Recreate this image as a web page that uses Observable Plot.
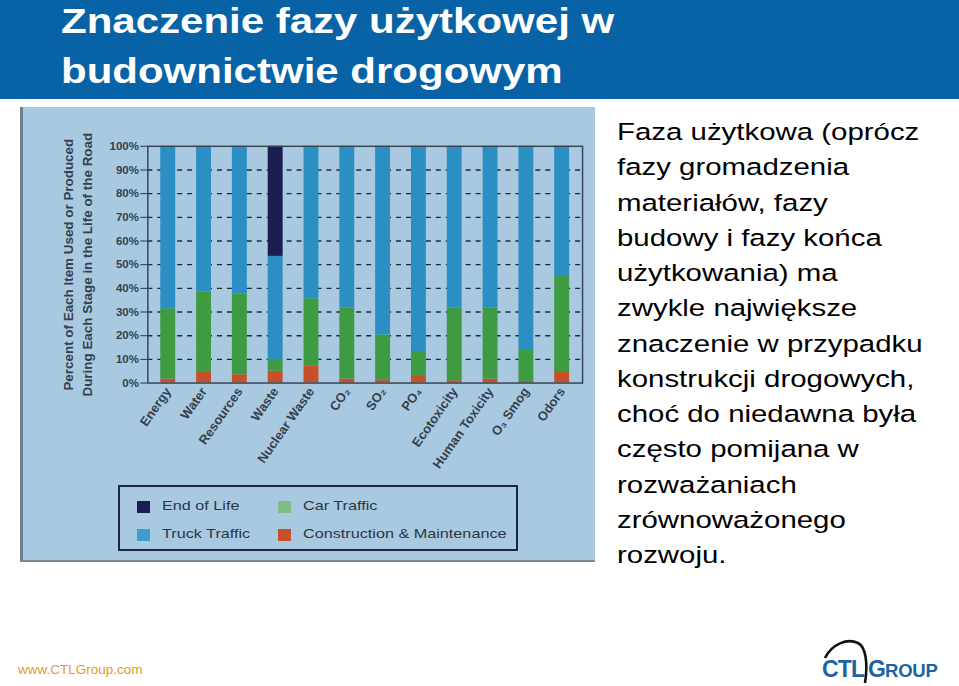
<!DOCTYPE html>
<html>
<head>
<meta charset="utf-8">
<script src="https://cdn.jsdelivr.net/npm/d3@7"></script>
<script src="https://cdn.jsdelivr.net/npm/@observablehq/plot@0.6"></script>
<style>
  html, body { margin: 0; padding: 0; }
  body { width: 959px; height: 686px; position: relative; overflow: hidden; background: #fff; font-family: "Liberation Sans", Arial, sans-serif; }
  #header { position: absolute; left: 0; top: 0; width: 959px; height: 99px; background: #0763a5; }
  .tline { position: absolute; left: 61px; color: #fff; font-weight: bold; font-size: 35px; white-space: nowrap; transform-origin: 0 0; transform: scale(1.2, 1); line-height: 40px; }
  #panel { position: absolute; left: 20px; top: 107px; width: 575px; height: 455px; background: #a9c9e1; border-left: 3px solid #6f7f8c; border-bottom: 2px solid #7d8b96; box-sizing: border-box; }
  #chart { position: absolute; left: -3px; top: 0; }
  #legend { position: absolute; left: 95px; top: 378px; width: 400px; height: 66px; border: 2px solid #1f2a36; box-sizing: border-box; font-size: 13.5px; color: #2c3640; }
  .li { position: absolute; white-space: nowrap; transform-origin: 0 50%; transform: scale(1.2, 1); }
  .sw { position: absolute; width: 13px; height: 12px; }
  #text { position: absolute; left: 617px; top: 114px; font-size: 24.5px; line-height: 35.25px; color: #000; white-space: nowrap; transform-origin: 0 0; transform: scale(1.2, 1); }
  #url { position: absolute; left: 18px; top: 662px; font-size: 13.5px; color: #e39a2e; }
  #logo { position: absolute; left: 818px; top: 636px; }
</style>
</head>
<body>
<div id="header">
  <div class="tline" style="top:1px">Znaczenie fazy użytkowej w</div>
  <div class="tline" style="top:51px">budownictwie drogowym</div>
</div>
<div id="panel">
  <div id="chart"></div>
  <div id="legend"></div>
</div>
<div id="text"></div>
<div id="url">www.CTLGroup.com</div>
<svg id="logo" width="140" height="50" viewBox="0 0 140 50">
  <path d="M7,22 C14,8 29,2 40,7 C48,11 50,28 47,47" fill="none" stroke="#111" stroke-width="2.6"/>
  <text x="4" y="41" font-family="Liberation Sans, Arial" font-weight="bold" font-size="23" fill="#1c63a3" letter-spacing="-0.8">CTL</text>
  <text x="50" y="41" font-family="Liberation Sans, Arial" font-weight="bold" font-size="23" fill="#1c63a3">G</text>
  <text x="67" y="41" font-family="Liberation Sans, Arial" font-weight="bold" font-size="18.5" fill="#1c63a3" letter-spacing="-0.2">ROUP</text>
</svg>
<script>
// ---- data ----
const categories = ["Energy", "Water", "Resources", "Waste", "Nuclear Waste", "CO₂", "SO₂", "PO₄", "Ecotoxicity", "Human Toxicity", "O₃ Smog", "Odors"];
const stages = ["Construction & Maintenance", "Car Traffic", "Truck Traffic", "End of Life"];
const construction = [1.7, 4.5, 3.5, 5.0, 7.3, 1.7, 1.4, 2.8, 1.0, 1.7, 0.7, 4.9];
const carTraffic   = [29.7, 33.9, 34.2, 4.5, 28.3, 30.1, 18.9, 10.5, 30.8, 30.1, 13.5, 40.1];
const endOfLife    = [0, 0, 0, 46.5, 0, 0, 0, 0, 0, 0, 0, 0];
const truckTraffic = categories.map((c, i) => 100 - construction[i] - carTraffic[i] - endOfLife[i]);
const stageColors = ["#c65128", "#3e9b41", "#2b8fc3", "#1b1c52"];
const yTicks = [0, 10, 20, 30, 40, 50, 60, 70, 80, 90, 100];
const gridValues = [10, 20, 30, 40, 50, 60, 70, 80, 90];
const yTitle = "Percent of Each Item Used or Produced\nDuring Each Stage in the Life of the Road";
const legendOrder = ["End of Life", "Truck Traffic", "Car Traffic", "Construction & Maintenance"];
const legendColors = ["#1b1c52", "#3a9ec6", "#7dbe86", "#c65128"];
const bodyLines = [
  "Faza użytkowa (oprócz",
  "fazy gromadzenia",
  "materiałów, fazy",
  "budowy i fazy końca",
  "użytkowania) ma",
  "zwykle największe",
  "znaczenie w przypadku",
  "konstrukcji drogowych,",
  "choć do niedawna była",
  "często pomijana w",
  "rozważaniach",
  "zrównoważonego",
  "rozwoju."
];

// ---- table ----
const seriesByStage = {
  "Construction & Maintenance": construction,
  "Car Traffic": carTraffic,
  "Truck Traffic": truckTraffic,
  "End of Life": endOfLife
};
const rows = [];
for (const s of stages) categories.forEach((c, i) => rows.push({cat: c, stage: s, value: seriesByStage[s][i]}));

const chart = Plot.plot({
  width: 578,
  height: 372,
  marginLeft: 128,
  marginRight: 13,
  marginTop: 39,
  marginBottom: 95,
  style: {background: "transparent", fontFamily: "Liberation Sans, Arial, sans-serif", color: "#2c3640", overflow: "visible"},
  x: {domain: categories, paddingInner: 0.59, paddingOuter: 0.25, label: null, tickRotate: -55, tickSize: 0, tickPadding: 6},
  y: {domain: [0, 100], ticks: yTicks, tickFormat: d => d + "%", label: null, tickSize: 7, tickPadding: 2},
  color: {domain: stages, range: stageColors},
  marks: [
    Plot.ruleY(gridValues, {stroke: "#1e2833", strokeWidth: 1.4, strokeDasharray: "5,5"}),
    Plot.barY(rows, {x: "cat", y: "value", fill: "stage", order: stages}),
    Plot.frame({stroke: "#3a4652", strokeWidth: 1.5}),
    Plot.text([yTitle], {frameAnchor: "left", textAnchor: "middle", dx: -72, rotate: -90, fontSize: 13.5, fontWeight: "bold", lineHeight: 1.4, fill: "#34404c"})
  ]
});
chart.querySelectorAll("[aria-label='x-axis tick label'] text").forEach(t => { t.style.fontSize = "13px"; t.style.fontWeight = "bold"; t.setAttribute("fill", "#34404c"); });
chart.querySelectorAll("[aria-label='y-axis tick label'] text").forEach(t => { t.style.fontSize = "11.5px"; t.style.fontWeight = "bold"; t.setAttribute("fill", "#34404c"); });
document.getElementById("chart").appendChild(chart);

// ---- legend ----
const legend = document.getElementById("legend");
const pos = [[17, 11], [17, 39], [158, 11], [158, 39]];
legendOrder.forEach((name, i) => {
  const [x, y] = pos[i];
  const sw = document.createElement("div");
  sw.className = "sw"; sw.style.left = x + "px"; sw.style.top = (y + 3) + "px"; sw.style.background = legendColors[i];
  legend.appendChild(sw);
  const t = document.createElement("div");
  t.className = "li"; t.style.left = (x + 25) + "px"; t.style.top = y + "px"; t.textContent = name;
  legend.appendChild(t);
});

// ---- body text ----
const tx = document.getElementById("text");
bodyLines.forEach(l => { const d = document.createElement("div"); d.textContent = l; tx.appendChild(d); });
</script>
</body>
</html>
